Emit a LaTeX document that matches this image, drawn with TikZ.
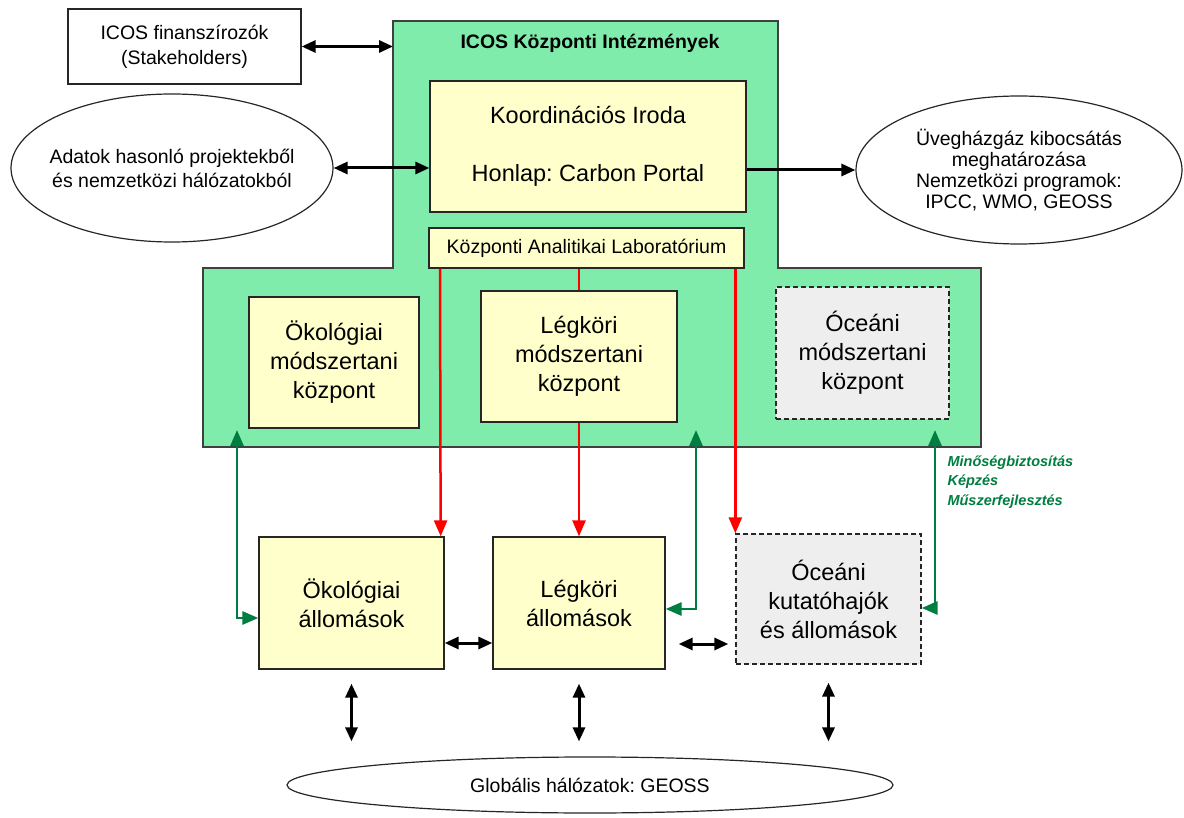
\documentclass[tikz,border=0pt]{standalone}
\usepackage{fontspec}
\setmainfont{Liberation Sans}
\usetikzlibrary{arrows.meta,shapes.geometric}

\definecolor{boxyellow}{RGB}{255,255,204}
\definecolor{mint}{RGB}{128,236,172}
\definecolor{qagreen}{RGB}{0,125,65}
\definecolor{oceangray}{RGB}{238,238,238}

\begin{document}
\frenchspacing
\begin{tikzpicture}[x=1pt,y=-1pt,
          box/.style={draw=black!85,fill=boxyellow,line width=1.3pt,align=center,inner sep=0pt,
            font=\fontsize{23.5}{29}\selectfont},
          dashbox/.style={box,fill=oceangray,dash pattern=on 5pt off 3pt},
          bubble/.style={draw=black!85,ellipse,line width=1.2pt,align=center,inner sep=0pt,
            font=\fontsize{19.5}{24}\selectfont},
          region/.style={draw=black!75,fill=mint,line width=1.5pt},
          link/.style={line width=3pt,{Triangle[length=14pt,width=12pt]}-{Triangle[length=14pt,width=12pt]}},
          oneway/.style={line width=3pt,-{Triangle[length=14pt,width=12pt]}},
          redlink/.style={red,line width=2.5pt,-{Triangle[length=16pt,width=13pt]}},
          greenlink/.style={qagreen,line width=2.8pt,{Triangle[length=16pt,width=13pt]}-{Triangle[length=16pt,width=13pt]}},
        ]

        \useasboundingbox (0,0) rectangle (1184,818);

        \draw[region] (393,21) -- (778,21) -- (778,268) -- (981,268) -- (981,447)
          -- (203,447) -- (203,268) -- (393,268) -- cycle;
        \coordinate (kozpedge) at (393,44);
        \node[font=\fontsize{19.5}{24}\selectfont\bfseries] (kozp) at (590,43) {ICOS Központi Intézmények};

        \node[box,fill=white,minimum width=233,minimum height=75,font=\fontsize{19.5}{25}\selectfont]
          (fin) at (184.5,46.5) {ICOS finanszírozók\\(Stakeholders)};
        \node[bubble,minimum width=322,minimum height=148] (adatok) at (172,168) {};
        \node[align=center,font=\fontsize{19.5}{24}\selectfont] (adatoktext) at (adatok)
          {Adatok hasonló projektekből\\és nemzetközi hálózatokból};
        \node[bubble,minimum width=326,minimum height=148,font=\fontsize{19.5}{21}\selectfont] (uveg) at (1019,170)
          {Üvegházgáz kibocsátás\\meghatározása\\Nemzetközi programok:\\IPCC, WMO, GEOSS};

        \node[box,minimum width=316,minimum height=131] (koord) at (588,146.5)
          {Koordinációs Iroda\\[29pt]Honlap: Carbon Portal};
        \node[box,minimum width=315,minimum height=40,font=\fontsize{19.5}{24}\selectfont] (lab) at (586.5,248)
          {Központi Analitikai Laboratórium};

        \node[box,minimum width=170,minimum height=131] (okozp) at (334,362.5) {Ökológiai\\módszertani\\központ};
        \node[box,minimum width=196,minimum height=131] (legkozp) at (579,356.5) {Légköri\\módszertani\\központ};
        \node[dashbox,minimum width=173,minimum height=132] (oceozp) at (862.5,353) {Óceáni\\módszertani\\központ};

        \node[box,minimum width=185,minimum height=132] (okoall) at (351.5,603) {Ökológiai\\állomások};
        \node[box,minimum width=172,minimum height=132] (legkall) at (579,603) {Légköri\\állomások};
        \node[dashbox,minimum width=185,minimum height=130] (oceall) at (828.5,599) {Óceáni\\kutatóhajók\\és állomások};

        \node[bubble,minimum width=606,minimum height=56] (glob) at (590,785) {Globális hálózatok: GEOSS};

        \node[anchor=west,align=left,text=qagreen,font=\fontsize{14.5}{19.5}\selectfont\bfseries\itshape]
          (qa) at (944,482) {Minőségbiztosítás\\Képzés\\Műszerfejlesztés};

        \draw[link] (fin.east) -- (fin.east -| kozpedge);
        \draw[link] (adatok.east) -- (koord.west |- adatok.east);
        \draw[oneway] (koord.east |- uveg.west) -- (uveg.west);

        \draw[redlink] ([xshift=-146.5pt]lab.south) -- ([xshift=-4pt]okoall.north east);
        \draw[red,line width=2.5pt] (lab.south -| legkozp.north) -- (legkozp.north);
        \draw[redlink] (legkozp.south) -- (legkall.north);
        \draw[redlink] (lab.south -| oceall.north west) -- (oceall.north west);

        \coordinate (gl) at (237,430);
        \coordinate (gm) at (696,430);
        \coordinate (gr) at (935,430);
        \draw[greenlink] (gl) |- ([yshift=-15pt]okoall.west);
        \draw[greenlink] (gm) |- ([yshift=-6pt]legkall.east);
        \draw[greenlink] (gr) |- ([yshift=-9pt]oceall.east);

        \draw[link] ([yshift=-40pt]okoall.east) -- ([yshift=-40pt]legkall.west);
        \draw[link,shorten <=13pt,shorten >=7pt] ([yshift=-41pt]legkall.east) -- ([yshift=-45pt]oceall.west);

        \draw[link,shorten <=14pt,shorten >=15pt] (okoall.south) -- (okoall.south |- glob.north);
        \draw[link,shorten <=14pt,shorten >=15pt] (legkall.south) -- (legkall.south |- glob.north);
        \draw[link,shorten <=18pt,shorten >=15pt] (oceall.south) -- (oceall.south |- glob.north);

      \end{tikzpicture}
\end{document}
